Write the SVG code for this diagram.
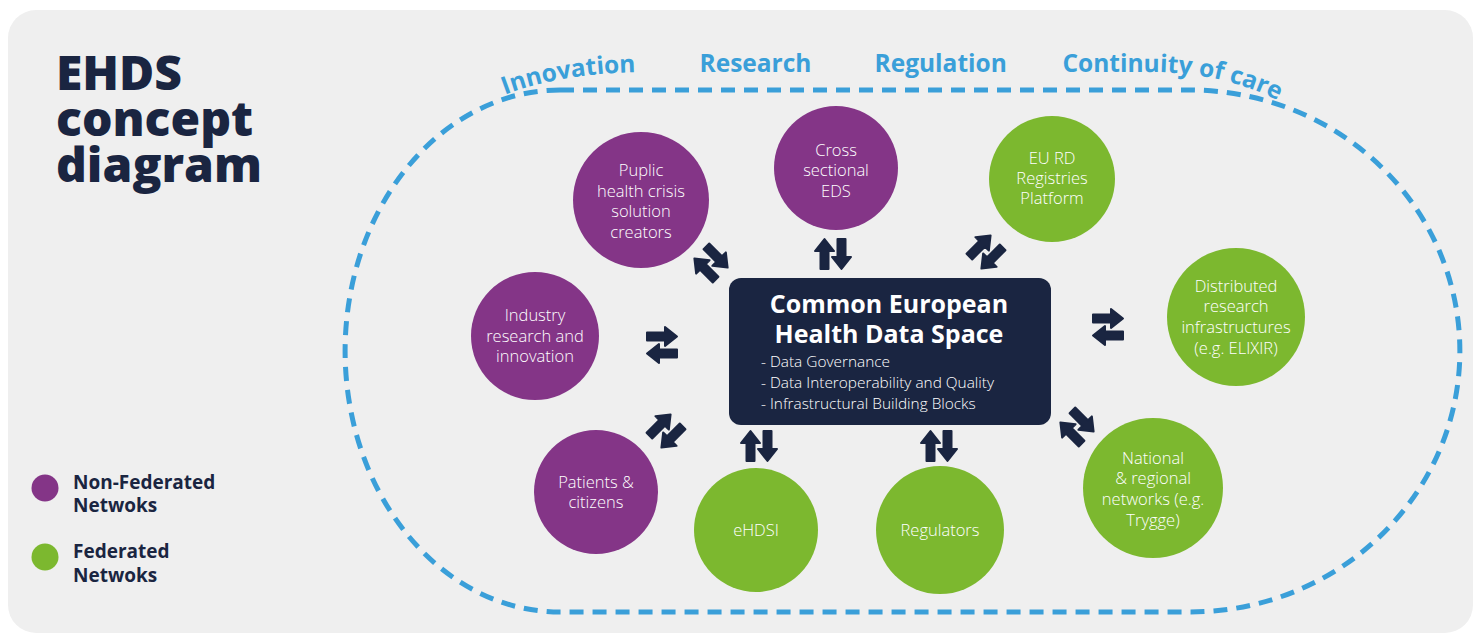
<svg xmlns="http://www.w3.org/2000/svg" width="1480" height="635" viewBox="0 0 1480 635">
<style>
.title{font-family:"Open Sans","Liberation Sans",sans-serif;font-weight:800;font-size:48px;fill:#1a2541}
.leg{font-family:"Open Sans","Liberation Sans",sans-serif;font-weight:700;font-size:19px;fill:#1a2541}
.theme{font-family:"Open Sans","Liberation Sans",sans-serif;font-weight:700;font-size:24.5px;fill:#3a9fd9}
.ct{font-family:"Open Sans","Liberation Sans",sans-serif;font-weight:300;font-size:16.5px;fill:#ffffff;text-anchor:middle}
.bt{font-family:"Open Sans","Liberation Sans",sans-serif;font-weight:700;font-size:25px;fill:#ffffff;text-anchor:middle}
.bl{font-family:"Open Sans","Liberation Sans",sans-serif;font-weight:300;font-size:15.4px;fill:#ffffff}
.np{fill:#843587}
.nf{fill:#7cb82f}
.arr{fill:#1a2541;stroke:#1a2541;stroke-width:2;stroke-linejoin:round}
</style>
<defs>
<path id="a1" d="M-15,-4 L3,-4 L3,-9.5 L15,0 L3,9.5 L3,4 L-15,4 Z"/>
<g id="swap">
<use href="#a1" transform="translate(0,-8.5)"/>
<use href="#a1" transform="translate(0,8.5) rotate(180)"/>
</g>
<path id="arc" d="M 492,100 Q 555,72 650,72 L 1150,72 Q 1230,72 1292,108"/>
</defs>
<rect x="8" y="10" width="1465" height="623" rx="28" fill="#efefef"/>
<g id="title">
<text class="title" x="56" y="90">EHDS</text>
<text class="title" x="56" y="136">concept</text>
<text class="title" x="56" y="182">diagram</text>
</g>
<g id="legend">
<circle cx="45" cy="488" r="13.5" class="np"/>
<text class="leg" x="73" y="489">Non-Federated</text>
<text class="leg" x="73" y="512">Netwoks</text>
<circle cx="45" cy="557" r="13.5" class="nf"/>
<text class="leg" x="73" y="558">Federated</text>
<text class="leg" x="73" y="582">Netwoks</text>
</g>
<g id="boundary">
<path d="M 560,90 L 1190,90 A 270,261 0 0 1 1190,612 L 560,612 A 215,261 0 0 1 560,90 Z" fill="none" stroke="#3a9fd9" stroke-width="5" stroke-dasharray="14 9"/>
<text class="theme"><textPath href="#arc" startOffset="14">Innovation</textPath></text>
<text class="theme"><textPath href="#arc" startOffset="211">Research</textPath></text>
<text class="theme"><textPath href="#arc" startOffset="386">Regulation</textPath></text>
<text class="theme"><textPath href="#arc" startOffset="574">Continuity of care</textPath></text>
</g>
<g id="connectors" class="arr">
<use href="#swap" transform="translate(711,263) rotate(45)"/>
<use href="#swap" transform="translate(833,254) rotate(-90)"/>
<use href="#swap" transform="translate(986,252) rotate(-45)"/>
<use href="#swap" transform="translate(662,345)"/>
<use href="#swap" transform="translate(1108,327)"/>
<use href="#swap" transform="translate(666,431) rotate(-45)"/>
<use href="#swap" transform="translate(759,446) rotate(-90)"/>
<use href="#swap" transform="translate(939,446) rotate(-90)"/>
<use href="#swap" transform="translate(1077,427) rotate(45)"/>
</g>
<g id="ehds">
<rect x="729" y="278" width="322" height="147" rx="12" fill="#1a2541"/>
<text class="bt" x="889" y="313">Common European</text>
<text class="bt" x="889" y="343">Health Data Space</text>
<text class="bl" x="761" y="367">- Data Governance</text>
<text class="bl" x="761" y="388">- Data Interoperability and Quality</text>
<text class="bl" x="761" y="409">- Infrastructural Building Blocks</text>
</g>
<g id="n-crisis">
<circle cx="641" cy="200" r="68" class="np"/>
<text class="ct" x="641" y="176">Puplic</text>
<text class="ct" x="641" y="197">health crisis</text>
<text class="ct" x="641" y="217">solution</text>
<text class="ct" x="641" y="238">creators</text>
</g>
<g id="n-cross">
<circle cx="836" cy="168" r="62" class="np"/>
<text class="ct" x="836" y="156">Cross</text>
<text class="ct" x="836" y="176">sectional</text>
<text class="ct" x="836" y="197">EDS</text>
</g>
<g id="n-eurd">
<circle cx="1052" cy="179" r="63" class="nf"/>
<text class="ct" x="1052" y="164">EU RD</text>
<text class="ct" x="1052" y="184">Registries</text>
<text class="ct" x="1052" y="204">Platform</text>
</g>
<g id="n-distributed">
<circle cx="1236" cy="317" r="69" class="nf"/>
<text class="ct" x="1236" y="292">Distributed</text>
<text class="ct" x="1236" y="312">research</text>
<text class="ct" x="1236" y="333">infrastructures</text>
<text class="ct" x="1236" y="354">(e.g. ELIXIR)</text>
</g>
<g id="n-national">
<circle cx="1153" cy="488" r="70" class="nf"/>
<text class="ct" x="1153" y="464">National</text>
<text class="ct" x="1153" y="484">&amp; regional</text>
<text class="ct" x="1153" y="505">networks (e.g.</text>
<text class="ct" x="1153" y="526">Trygge)</text>
</g>
<g id="n-regulators">
<circle cx="940" cy="530" r="64" class="nf"/>
<text class="ct" x="940" y="536">Regulators</text>
</g>
<g id="n-ehdsi">
<circle cx="756" cy="530" r="62" class="nf"/>
<text class="ct" x="756" y="536">eHDSI</text>
</g>
<g id="n-patients">
<circle cx="596" cy="492" r="62" class="np"/>
<text class="ct" x="596" y="488">Patients &amp;</text>
<text class="ct" x="596" y="508">citizens</text>
</g>
<g id="n-industry">
<circle cx="535" cy="336" r="64" class="np"/>
<text class="ct" x="535" y="321">Industry</text>
<text class="ct" x="535" y="342">research and</text>
<text class="ct" x="535" y="362">innovation</text>
</g>
</svg>
